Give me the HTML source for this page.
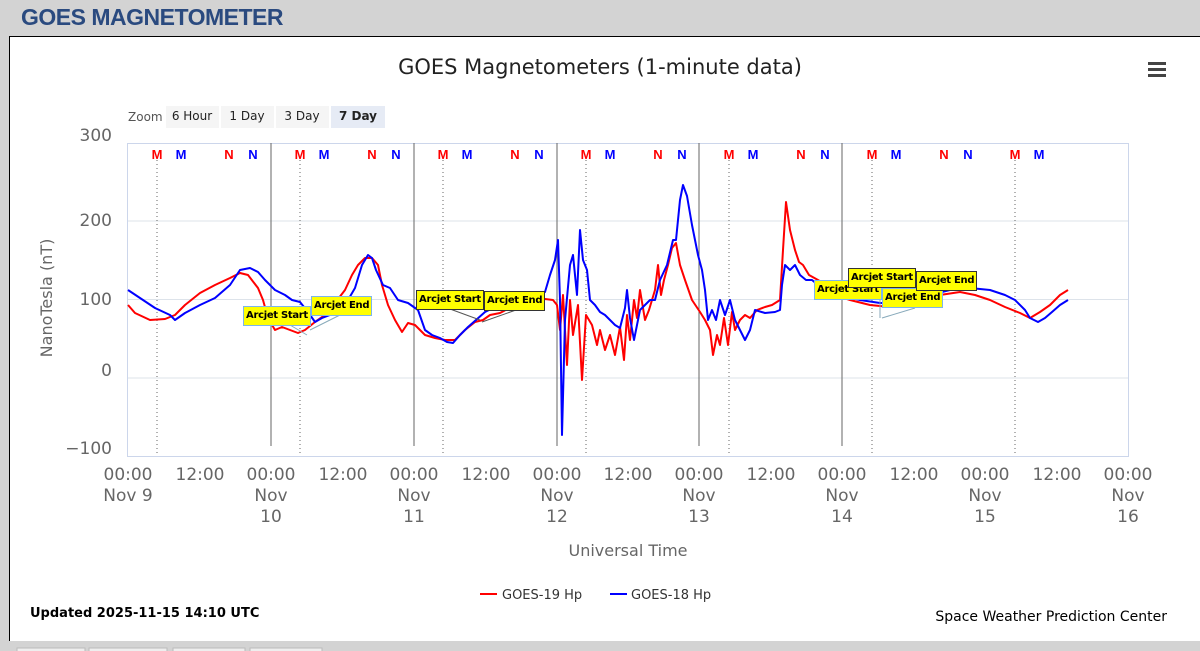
<!DOCTYPE html>
<html><head><meta charset="utf-8"><style>
body{margin:0;width:1200px;height:651px;overflow:hidden;background:#d3d3d3;font-family:"Liberation Sans",sans-serif;position:relative}
.hdr{position:absolute;left:21px;top:4px;font-size:23px;font-weight:bold;color:#2a4a7f;letter-spacing:-0.5px}
.frame{position:absolute;left:9px;top:36px;width:1195px;height:605px;background:#fff;border:1px solid #000;border-right:none}
.ann{position:absolute;background:#ffff00;font-size:10px;font-weight:bold;padding:0 2px;height:18px;line-height:18px;white-space:nowrap;color:#000;font-family:"DejaVu Sans",sans-serif;letter-spacing:-0.3px}
</style></head><body>
<div class="hdr">GOES MAGNETOMETER</div>
<div class="frame"></div>
<svg width="1200" height="651" style="position:absolute;left:0;top:0" font-family="DejaVu Sans, sans-serif">
<text x="600" y="74" font-size="21" text-anchor="middle" fill="#222">GOES Magnetometers (1-minute data)</text>
<g fill="#444"><rect x="1148" y="62" width="18" height="3"/><rect x="1148" y="68" width="18" height="3"/><rect x="1148" y="74" width="18" height="3"/></g>
<text x="128" y="121" font-size="12" fill="#555">Zoom</text>
<rect x="166" y="106" width="53" height="22" fill="#f5f5f5"/><text x="192" y="120" font-size="12" text-anchor="middle" fill="#222">6 Hour</text>
<rect x="221" y="106" width="53" height="22" fill="#f5f5f5"/><text x="247" y="120" font-size="12" text-anchor="middle" fill="#222">1 Day</text>
<rect x="276" y="106" width="53" height="22" fill="#f5f5f5"/><text x="302" y="120" font-size="12" text-anchor="middle" fill="#222">3 Day</text>
<rect x="331" y="106" width="54" height="22" fill="#e6ebf5"/><text x="358" y="120" font-size="12" font-weight="bold" text-anchor="middle" fill="#222">7 Day</text>
<g stroke="#dde3ea" stroke-width="1">
<line x1="128" y1="221" x2="1128" y2="221"/><line x1="128" y1="299.5" x2="1128" y2="299.5"/><line x1="128" y1="378" x2="1128" y2="378"/>
</g>
<rect x="127.5" y="143.5" width="1001" height="313" fill="none" stroke="#ccd6eb"/>
<g stroke="#666" stroke-width="1">
<line x1="271" y1="143" x2="271" y2="446"/><line x1="414" y1="143" x2="414" y2="446"/><line x1="557" y1="143" x2="557" y2="446"/><line x1="699" y1="143" x2="699" y2="446"/><line x1="842" y1="143" x2="842" y2="446"/>
</g>
<g stroke="#666" stroke-dasharray="1,3">
<line x1="157" y1="160" x2="157" y2="456"/><line x1="300" y1="160" x2="300" y2="456"/><line x1="443" y1="160" x2="443" y2="456"/><line x1="586" y1="160" x2="586" y2="456"/><line x1="729" y1="160" x2="729" y2="456"/><line x1="872" y1="160" x2="872" y2="456"/><line x1="1015" y1="160" x2="1015" y2="456"/>
</g>
<g font-size="13" font-weight="bold" text-anchor="middle" font-family="Liberation Sans, sans-serif">
<g fill="#f00"><text x="157" y="159">M</text><text x="229" y="159">N</text><text x="300" y="159">M</text><text x="372" y="159">N</text><text x="443" y="159">M</text><text x="515" y="159">N</text><text x="586" y="159">M</text><text x="658" y="159">N</text><text x="729" y="159">M</text><text x="801" y="159">N</text><text x="872" y="159">M</text><text x="944" y="159">N</text><text x="1015" y="159">M</text></g>
<g fill="#00f"><text x="181" y="159">M</text><text x="253" y="159">N</text><text x="324" y="159">M</text><text x="396" y="159">N</text><text x="467" y="159">M</text><text x="539" y="159">N</text><text x="610" y="159">M</text><text x="682" y="159">N</text><text x="753" y="159">M</text><text x="825" y="159">N</text><text x="896" y="159">M</text><text x="968" y="159">N</text><text x="1039" y="159">M</text></g>
</g>
<g font-size="17" fill="#666" text-anchor="end">
<text x="112" y="141">300</text><text x="112" y="226">200</text><text x="112" y="305">100</text><text x="112" y="376">0</text><text x="112" y="454">−100</text>
</g>
<text transform="translate(52,298) rotate(-90)" font-size="16" fill="#666" text-anchor="middle">NanoTesla (nT)</text>
<g font-size="17" fill="#666" text-anchor="middle">
<text x="128" y="480">00:00</text><text x="128" y="501">Nov 9</text>
<text x="200" y="480">12:00</text>
<text x="271" y="480">00:00</text><text x="271" y="501">Nov</text><text x="271" y="522">10</text>
<text x="343" y="480">12:00</text>
<text x="414" y="480">00:00</text><text x="414" y="501">Nov</text><text x="414" y="522">11</text>
<text x="486" y="480">12:00</text>
<text x="557" y="480">00:00</text><text x="557" y="501">Nov</text><text x="557" y="522">12</text>
<text x="628" y="480">12:00</text>
<text x="699" y="480">00:00</text><text x="699" y="501">Nov</text><text x="699" y="522">13</text>
<text x="771" y="480">12:00</text>
<text x="842" y="480">00:00</text><text x="842" y="501">Nov</text><text x="842" y="522">14</text>
<text x="914" y="480">12:00</text>
<text x="985" y="480">00:00</text><text x="985" y="501">Nov</text><text x="985" y="522">15</text>
<text x="1057" y="480">12:00</text>
<text x="1128" y="480">00:00</text><text x="1128" y="501">Nov</text><text x="1128" y="522">16</text>
</g>
<text x="628" y="556" font-size="16" fill="#666" text-anchor="middle">Universal Time</text>
<polyline fill="none" stroke="#f00" stroke-width="2" stroke-linejoin="round" points="128,305 135,313 150,320 165,319 175,315 185,305 200,293 215,285 230,278 240,273 248,275 258,288 263,300 268,318 275,330 282,327 290,330 298,333 305,330 315,322 325,315 335,303 345,290 352,275 358,265 365,258 372,258 378,265 382,285 388,305 395,320 402,332 408,323 415,325 425,335 435,338 445,340 455,340 465,330 475,322 483,320 490,315 500,313 515,305 530,300 545,299 553,300 557,305 560,330 563,295 567,365 570,300 573,335 578,305 582,380 586,315 592,325 597,345 600,330 605,350 610,335 615,355 620,327 624,360 627,315 630,340 634,300 637,318 640,290 645,320 649,310 655,290 658,265 661,295 664,280 668,265 672,248 676,243 680,265 685,280 692,300 700,312 705,320 710,330 713,355 717,335 720,345 724,318 728,345 732,312 735,330 740,320 745,315 750,318 757,310 765,307 772,305 780,300 783,250 786,202 790,230 795,250 799,262 803,265 809,275 818,280 826,285 835,295 850,300 870,305 890,307 905,305 920,300 940,295 960,292 975,295 990,300 1005,307 1020,313 1030,318 1040,312 1050,305 1060,295 1068,290"/>
<polyline fill="none" stroke="#00f" stroke-width="2" stroke-linejoin="round" points="128,290 140,298 155,308 170,315 175,320 185,313 200,305 215,298 230,285 240,270 250,268 258,272 265,280 275,290 285,295 292,300 300,302 308,312 315,322 322,318 330,315 340,312 348,300 355,288 362,265 368,255 372,258 376,270 383,285 390,288 398,300 408,303 418,310 425,330 432,335 440,338 447,342 453,343 460,335 468,327 476,320 485,312 493,308 505,300 520,295 535,293 545,292 550,275 555,260 558,240 560,300 562,435 565,320 570,265 573,255 577,295 580,230 583,260 587,270 590,300 595,305 600,312 605,315 610,320 615,325 620,328 625,308 627,290 630,318 634,340 640,310 645,305 650,300 655,300 660,280 667,265 673,240 676,240 680,200 683,185 687,196 692,225 698,255 702,270 705,290 708,320 712,310 716,320 720,300 725,315 730,300 735,320 740,330 745,340 750,330 755,310 765,313 775,312 780,310 782,285 785,265 790,270 795,265 800,275 806,280 812,280 818,285 828,290 840,295 860,300 880,303 900,303 930,295 950,290 970,288 990,290 1005,295 1015,300 1025,310 1030,318 1038,322 1045,318 1052,312 1060,305 1068,300"/>
<g stroke="#8ab" stroke-width="1"><line x1="290" y1="325" x2="307" y2="335"/><line x1="340" y1="315" x2="310" y2="330"/><line x1="880" y1="300" x2="880" y2="318"/><line x1="915" y1="308" x2="882" y2="318"/></g>
<g stroke="#555" stroke-width="1"><line x1="450" y1="309" x2="480" y2="320"/><line x1="516" y1="310" x2="482" y2="322"/></g>
<line x1="480" y1="594" x2="497" y2="594" stroke="#f00" stroke-width="2"/><text x="502" y="599" font-size="13" fill="#333">GOES-19 Hp</text>
<line x1="610" y1="594" x2="627" y2="594" stroke="#00f" stroke-width="2"/><text x="631" y="599" font-size="13" fill="#333">GOES-18 Hp</text>
<text x="30" y="617" font-size="13" font-weight="bold" fill="#000">Updated 2025-11-15 14:10 UTC</text>
<text x="1167" y="621" font-size="14" fill="#000" text-anchor="end">Space Weather Prediction Center</text>
<rect x="9" y="641" width="1191" height="10" fill="#d3d3d3"/>
<g fill="#eee" stroke="#bbb"><rect x="17" y="648" width="68" height="8"/><rect x="89" y="648" width="78" height="8"/><rect x="173" y="648" width="72" height="8"/><rect x="250" y="648" width="72" height="8"/></g>
</svg>
<div class="ann" style="left:243px;top:306px;border:1px solid #7cb5ec">Arcjet Start</div>
<div class="ann" style="left:311px;top:296px;border:1px solid #7cb5ec">Arcjet End</div>
<div class="ann" style="left:416px;top:290px;border:1px solid #333">Arcjet Start</div>
<div class="ann" style="left:484px;top:291px;border:1px solid #333">Arcjet End</div>
<div class="ann" style="left:814px;top:280px;border:1px solid #7cb5ec">Arcjet Start</div>
<div class="ann" style="left:882px;top:288px;border:1px solid #7cb5ec">Arcjet End</div>
<div class="ann" style="left:848px;top:268px;border:1px solid #333">Arcjet Start</div>
<div class="ann" style="left:916px;top:271px;border:1px solid #333">Arcjet End</div>
</body></html>
